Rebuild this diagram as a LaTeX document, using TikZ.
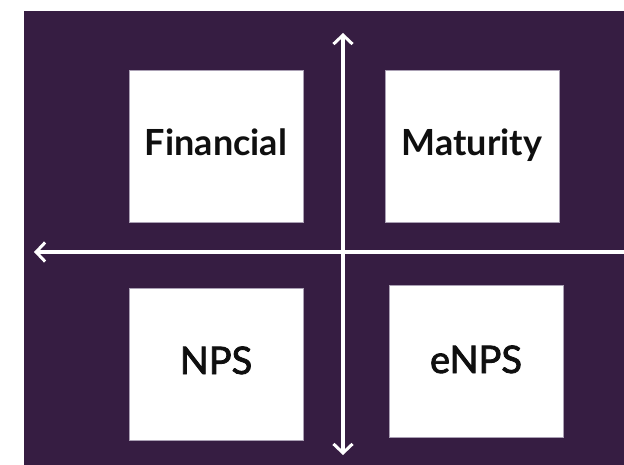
\documentclass[tikz,border=0pt]{standalone}
\usepackage{fontspec}
\setmainfont{Lato}
\usetikzlibrary{arrows.meta}

\definecolor{plum}{RGB}{54, 29, 66}
\definecolor{edgegray}{RGB}{170, 160, 180}
\definecolor{ink}{RGB}{15, 15, 15}

\tikzset{
  quad/.style={draw=edgegray, line width=0.8pt, fill=white, minimum width=174pt,
    minimum height=152pt, inner sep=0pt, text=ink, font=\fontsize{36}{40}\selectfont\bfseries},
  light/.style={font=\fontsize{38}{42}\selectfont\addfontfeatures{FakeBold=2.2}},
  axtip/.tip={Straight Barb[length=9pt, width=19pt, line width=3pt]},
  axis/.style={white, line width=3.4pt}
}
% label lowered/lifted by #1 from the middle of its box, without changing the box
\newcommand{\lift}[2]{\raisebox{#1}[0pt][0pt]{#2}}

\begin{document}
\begin{tikzpicture}[x=1pt, y=-1pt]
  \useasboundingbox (0,0) rectangle (624,465);
  % backdrop
  \fill[plum] (24,11) rectangle (624,465);

  % the four quadrants
  \node[quad] (fin) at (216,146) {\lift{-9.5pt}{Financial}};
  \node[quad] (mat) at (472,146) {\lift{-9.5pt}{Maturity}};
  \node[quad, light] (nps) at (216,364) {\lift{-10pt}{NPS}};
  \node[quad, light] (enps) at (476,361.5) {\lift{-11.5pt}{eNPS}};

  % axes
  \coordinate (east) at (624,252);
  \coordinate (west) at (34,252);
  \coordinate (north) at (343,33);
  \coordinate (south) at (343,455);
  \draw[axis, arrows={-axtip}] (east) -- (west);
  \draw[axis, arrows={axtip-axtip}] (north) -- (south);
\end{tikzpicture}
\end{document}
